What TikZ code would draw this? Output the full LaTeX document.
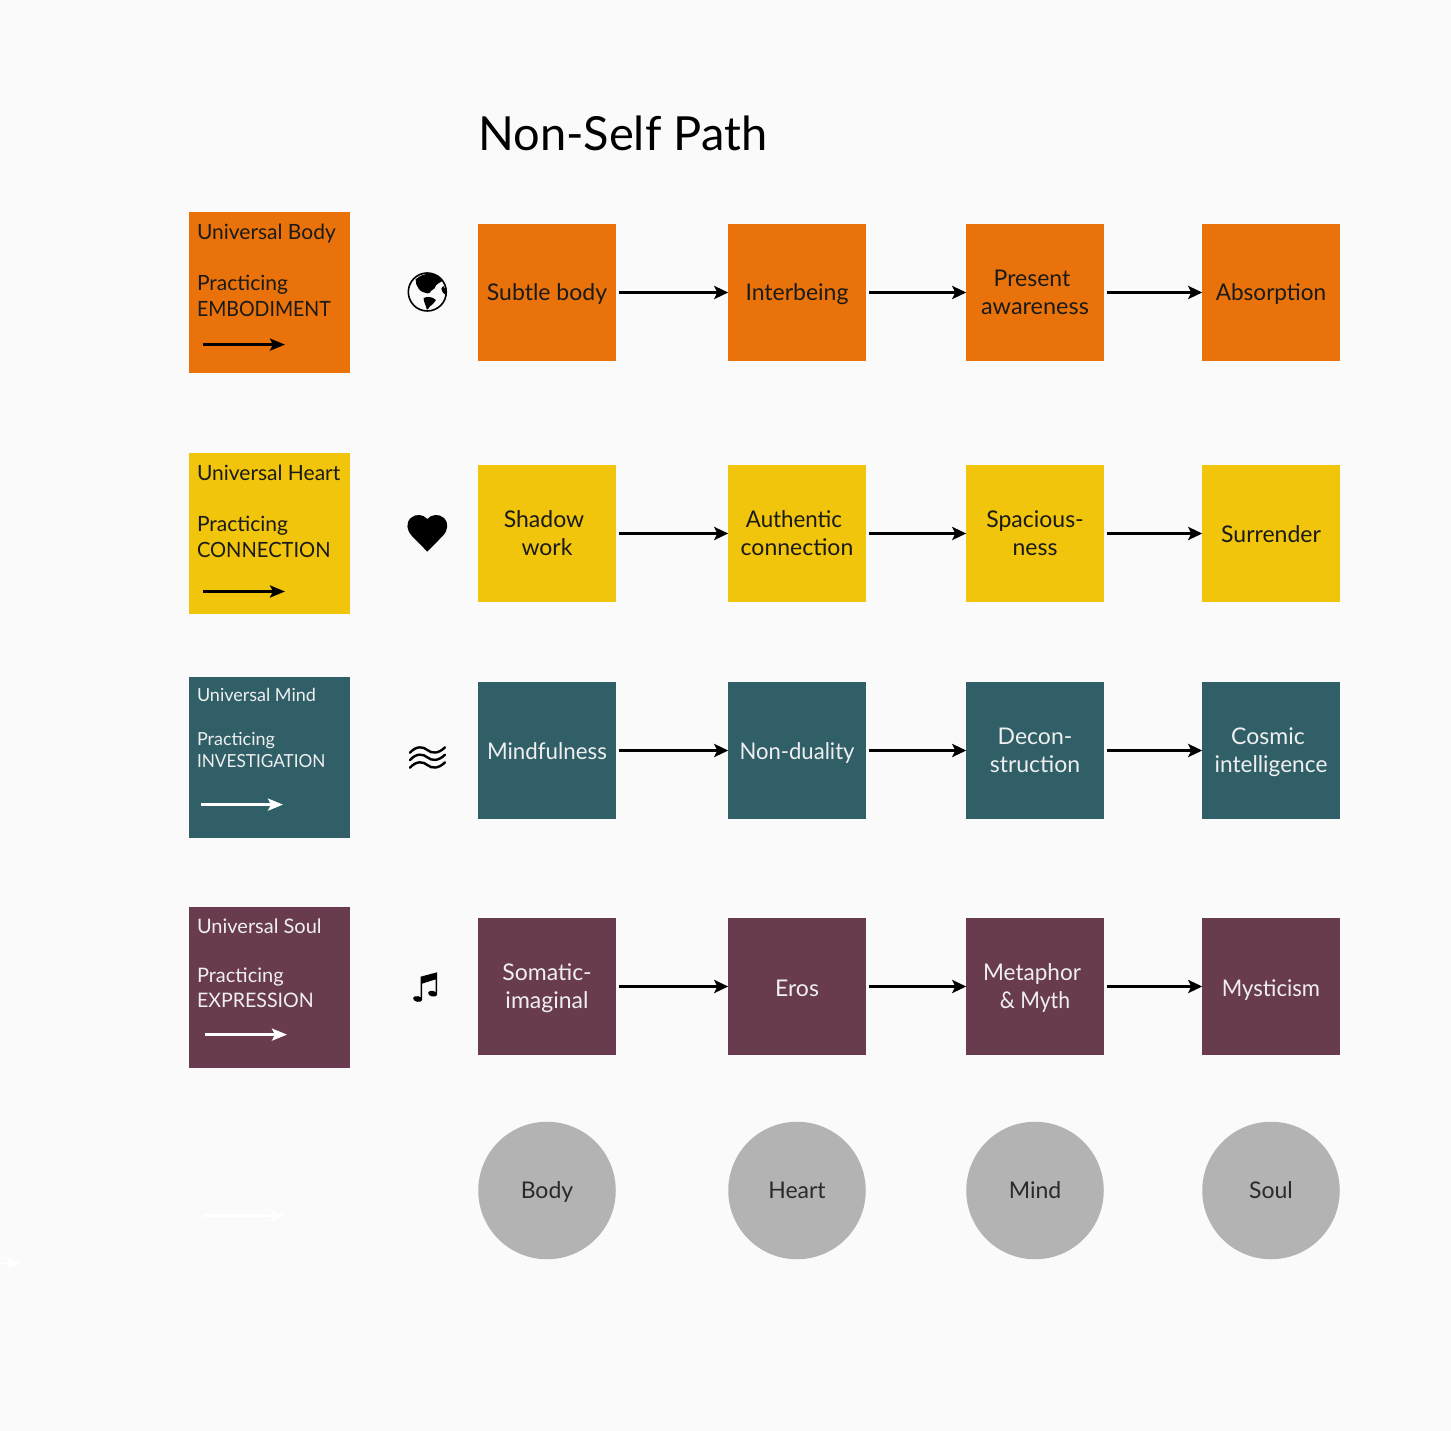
\documentclass[tikz,border=0pt]{standalone}
\usepackage{fontspec}
\setmainfont{Lato}
\usetikzlibrary{arrows.meta}
\definecolor{bgc}{HTML}{FAFAFA}
\definecolor{orangec}{HTML}{E9730A}
\definecolor{yellowc}{HTML}{F0C50B}
\definecolor{tealc}{HTML}{305F68}
\definecolor{plumc}{HTML}{683B4E}
\definecolor{greyc}{HTML}{B3B3B3}
\definecolor{inkc}{HTML}{1A1A1A}
\definecolor{lightc}{HTML}{EFEFEF}
\definecolor{circc}{HTML}{2A2A2A}
\newcommand{\tsp}{\hspace*{6pt}}
\newcommand{\fitw}[2]{{\addfontfeatures{FakeStretch=#1}#2}}
\newcommand{\dropby}[2]{\smash{\raisebox{-#1}{#2}}}
\newcommand{\pairlines}[2]{\dropby{11.4pt}{#1}\\\dropby{11.4pt}{#2}}
\tikzset{
  x=1pt,y=-1pt,
  boxlabel/.style={align=center,font=\fontsize{23}{28}\selectfont,
    execute at begin node={\rule{0pt}{22pt}},execute at end node={\rule[-6pt]{0pt}{6pt}}},
  cell/.style={minimum size=137.5pt,inner sep=0pt,outer sep=0pt,boxlabel},
  orangecell/.style={cell,fill=orangec,text=inkc},
  yellowcell/.style={cell,fill=yellowc,text=inkc},
  tealcell/.style={cell,fill=tealc,text=lightc},
  plumcell/.style={cell,fill=plumc,text=lightc},
  bubble/.style={circle,minimum size=137.5pt,inner sep=0pt,outer sep=0pt,fill=greyc,text=circc,boxlabel},
  legendbox/.style={minimum size=161pt,inner sep=0pt,outer sep=0pt},
  legendtext/.style={anchor=north west,inner sep=0pt,outer sep=0pt,align=left},
  flow/.style={draw=black,line width=2.8pt,-{Stealth[length=14pt,width=13pt,inset=3pt]},shorten <=3pt},
  keyarrow/.style={line width=2.8pt,-{Stealth[length=15pt,width=12pt,inset=3pt]}},
}
\begin{document}
\begin{tikzpicture}
\useasboundingbox (0,0) rectangle (1451,1431);
\fill[bgc] (0,0) rectangle (1451,1431);

\node[anchor=base west,inner sep=0pt,text=black,font=\fontsize{47}{56}\selectfont] (title) at (478,151) {Non-Self Path};

% legend boxes
\node[legendbox,fill=orangec] (lb1) at (269.5,292.5) {};
\node[legendbox,fill=yellowc] (lb2) at (269.5,533.5) {};
\node[legendbox,fill=tealc]   (lb3) at (269.5,757.5) {};
\node[legendbox,fill=plumc]   (lb4) at (269.5,987.5) {};

\node[legendtext,text=inkc,font=\fontsize{21}{25.7}\selectfont] (lt1) at (197,224) {Universal Body\\[25.7pt]Practicing\\\fitw{0.93}{EMBODIMENT}};
\node[legendtext,text=inkc,font=\fontsize{21}{25.7}\selectfont] (lt2) at (197,465) {Universal Heart\\[25.7pt]Practicing\\\fitw{0.957}{CONNECTION}};
\node[legendtext,text=lightc,font=\fontsize{18}{22}\selectfont] (lt3) at (197,688) {Universal Mind\\[22pt]Practicing\\\fitw{0.955}{INVESTIGATION}};
\node[legendtext,text=lightc,font=\fontsize{20}{24.5}\selectfont] (lt4) at (197,919) {Universal Soul\\[24.5pt]Practicing\\\fitw{0.98}{EXPRESSION}};

% legend arrows
\coordinate (ka1) at (203,344.6); \coordinate (kb1) at (285,344.6);
\coordinate (ka2) at (203,591.5); \coordinate (kb2) at (285,591.5);
\coordinate (ka3) at (201,804.6); \coordinate (kb3) at (283,804.6);
\coordinate (ka4) at (205,1034.6); \coordinate (kb4) at (287,1034.6);
\coordinate (ka5) at (203,1215.6); \coordinate (kb5) at (285,1215.6);
\coordinate (ka6) at (-20,1263); \coordinate (kb6) at (21,1263);
\draw[keyarrow,black] (ka1) -- (kb1);
\draw[keyarrow,black] (ka2) -- (kb2);
\draw[keyarrow,white] (ka3) -- (kb3);
\draw[keyarrow,white] (ka4) -- (kb4);
\draw[keyarrow,white] (ka5) -- (kb5);
\draw[keyarrow,white] (ka6) -- (kb6);

% globe
\begin{scope}[shift={(180,200)},x=0.3333pt,y=-0.3333pt]
\draw[black,line width=1.6pt] (742,276) circle[radius=57];
\fill[black] (707,238) .. controls (735,214) and (768,216) .. (788,243)
  .. controls (780,248) and (772,250) .. (768,256) .. controls (768,264) and (760,268) .. (754,272)
  .. controls (750,278) and (748,282) .. (742,280) .. controls (732,278) and (724,276) .. (716,266)
  .. controls (710,258) and (706,248) .. (707,238) -- cycle;
\fill[black] (790,258) .. controls (797,265) and (800,274) .. (798,286)
  .. controls (790,282) and (785,274) .. (784,266) -- cycle;
\fill[black] (731,294) .. controls (744,288) and (758,291) .. (768,300)
  .. controls (764,309) and (756,314) .. (749,320) .. controls (746,328) and (742,330) .. (740,328)
  .. controls (739,316) and (730,306) .. (731,294) -- cycle;
\end{scope}

% heart
\begin{scope}[shift={(390,500)},x=0.3333pt,y=-0.3333pt]
\fill[black] (112,155) -- (65,107) .. controls (50,90) and (47,70) .. (62,54)
  .. controls (78,40) and (100,43) .. (112,57) .. controls (124,43) and (146,40) .. (162,54)
  .. controls (177,70) and (174,90) .. (159,107) -- cycle;
\end{scope}

% waves
\begin{scope}[shift={(390,730)},x=0.3333pt,y=-0.3333pt]
\foreach \dy in {0,22,45}{
\draw[black,line width=2.4pt,line cap=round] (60,{68+\dy}) .. controls (80,{46+\dy}) and (100,{50+\dy}) .. (112,{60+\dy}) .. controls (125,{71+\dy}) and (145,{72+\dy}) .. (165,{52+\dy});
}
\end{scope}

% music
\begin{scope}[shift={(390,960)},x=0.3333pt,y=-0.3333pt]
\fill[black] (92,50) -- (141,37) -- (141,100) -- (137,100) -- (137,58) -- (96,71) -- (96,117) -- (92,117) -- cycle;
\fill[black,rotate around={-12:(83,117)}] (83,117) ellipse[x radius=14,y radius=8.5];
\fill[black,rotate around={-12:(128,101)}] (128,101) ellipse[x radius=14,y radius=8.5];
\end{scope}

% row 1
\node[orangecell] (a1) at (547,292.5) {Subtle body};
\node[orangecell] (a2) at (797,292.5) {Interbeing};
\node[orangecell] (a3) at (1035,292.5) {\pairlines{Present\tsp}{\fitw{1.02}{awareness}}};
\node[orangecell] (a4) at (1271,292.5) {\fitw{0.98}{Absorption}};
% row 2
\node[yellowcell] (b1) at (547,533.5) {\pairlines{Shadow\tsp}{work}};
\node[yellowcell] (b2) at (797,533.5) {\pairlines{\fitw{0.97}{Authentic}\tsp}{connection}};
\node[yellowcell] (b3) at (1035,533.5) {\pairlines{Spacious-}{ness}};
\node[yellowcell] (b4) at (1271,533.5) {\dropby{1pt}{Surrender}};
% row 3
\node[tealcell] (c1) at (547,750.5) {\dropby{1pt}{\fitw{0.97}{Mindfulness}}};
\node[tealcell] (c2) at (797,750.5) {\dropby{1pt}{\fitw{0.96}{Non-duality}}};
\node[tealcell] (c3) at (1035,750.5) {\pairlines{Decon-}{struction}};
\node[tealcell] (c4) at (1271,750.5) {\pairlines{Cosmic\tsp}{\fitw{0.985}{intelligence}}};
% row 4
\node[plumcell] (d1) at (547,986.5) {\pairlines{Somatic-}{imaginal}};
\node[plumcell] (d2) at (797,986.5) {\dropby{1.5pt}{Eros}};
\node[plumcell] (d3) at (1035,986.5) {\pairlines{\fitw{0.98}{Metaphor}\tsp}{\fitw{0.92}{\& Myth}}};
\node[plumcell] (d4) at (1271,986.5) {\dropby{1.5pt}{\fitw{0.96}{Mysticism}}};
% circles
\node[bubble] (e1) at (547,1190.5) {Body};
\node[bubble] (e2) at (797,1190.5) {Heart};
\node[bubble] (e3) at (1035,1190.5) {Mind};
\node[bubble] (e4) at (1271,1190.5) {Soul};

\foreach \r in {a,b,c,d}{
  \draw[flow] (\r1) -- (\r2);
  \draw[flow] (\r2) -- (\r3);
  \draw[flow] (\r3) -- (\r4);
}
\end{tikzpicture}
\end{document}
